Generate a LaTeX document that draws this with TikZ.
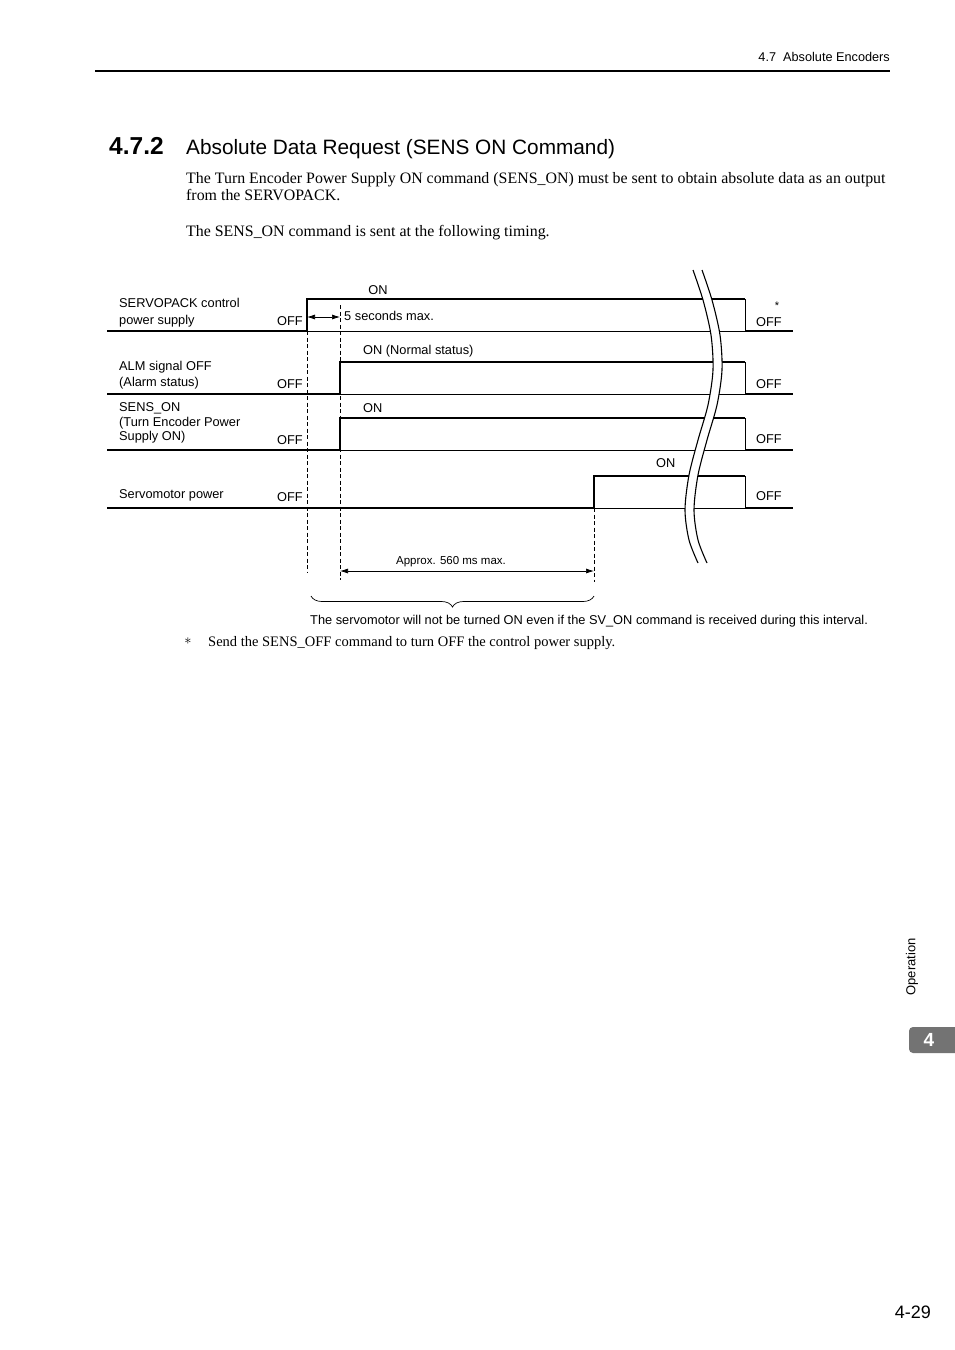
\documentclass[tikz,border=0pt]{standalone}
\usepackage{fontspec}
\setmainfont{Liberation Serif}
\newfontfamily\arial{Liberation Sans}
\usetikzlibrary{arrows.meta,decorations.pathreplacing}
\definecolor{tabgray}{RGB}{115,115,115}
\begin{document}
\begin{tikzpicture}[x=1pt,y=-1pt,
  lbl/.style={font=\arial\fontsize{12.8}{14}\selectfont, anchor=base west, inner sep=0pt},
  lblr/.style={lbl, anchor=base east},
  lblc/.style={lbl, anchor=base},
  sig/.style={line width=1.4pt, line join=miter},
  baseln/.style={line width=0.7pt},
  guide/.style={line width=0.7pt, dash pattern=on 4pt off 2.5pt},
  dim/.style={line width=0.7pt, {Latex[length=8pt,width=5pt]}-{Latex[length=8pt,width=5pt]}},
  body/.style={font=\fontsize{15.9}{18}\selectfont, anchor=base west, inner sep=0pt},
  wave/.style={line width=1.1pt}]
\useasboundingbox (0,0) rectangle (954,1350);

% header
\node[font=\arial\fontsize{12.7}{14}\selectfont, anchor=base east, inner sep=0pt] (hdr) at (890,61) {4.7\ \ Absolute Encoders};
\coordinate (r1) at (95,71); \coordinate (r2) at (890,71);
\draw[line width=2pt] (r1) -- (r2);

% heading
\node[anchor=base west, inner sep=0pt, font=\arial\bfseries\fontsize{24.5}{26}\selectfont] (num) at (109,154.5) {4.7.2};
\node[anchor=base west, inner sep=0pt, font=\arial\fontsize{20.8}{24}\selectfont] (ttl) at (186,154.5) {Absolute Data Request (SENS ON Command)};

% body
\node[body] (b1) at (186,183) {The Turn Encoder Power Supply ON command (SENS\_ON) must be sent to obtain absolute data as an output};
\node[body] (b2) at (186,200) {from the SERVOPACK.};
\node[body] (b3) at (186,236) {The SENS\_ON command is sent at the following timing.};

% signals
\draw[sig] (107,331) -- (307,331) -- (307,299) -- (745,299);
\draw[baseln] (307,331) -- (745,331) (745,299) -- (745,331);
\draw[sig] (745,331) -- (793,331);

\draw[sig] (107,394) -- (340,394) -- (340,362) -- (745,362);
\draw[baseln] (340,394) -- (745,394) (745,362) -- (745,394);
\draw[sig] (745,394) -- (793,394);

\draw[sig] (107,450) -- (340,450) -- (340,418) -- (745,418);
\draw[baseln] (340,450) -- (745,450) (745,418) -- (745,450);
\draw[sig] (745,450) -- (793,450);

\draw[sig] (107,508) -- (594,508) -- (594,476) -- (745,476);
\draw[baseln] (594,508) -- (745,508) (745,476) -- (745,508);
\draw[sig] (745,508) -- (793,508);

% guides
\draw[guide] (307,331) -- (307,572);
\draw[guide] (340,305) -- (340,580);
\draw[guide] (594,508) -- (594,582);

% dimension arrows
\draw[dim] (307,317) -- (340,317);
\draw[dim] (340,571) -- (594,571);

% brace
\draw[line width=0.7pt, decorate, decoration={brace, amplitude=11pt, mirror}] (311,596) -- (594,596);

% wave break
\fill[white] plot[smooth] coordinates {(693,270) (703,300) (711,335) (713,370) (708,405) (698,440) (689,475) (685,510) (689,540) (698,563)}
  -- plot[smooth] coordinates {(707,563) (698,540) (694,510) (698,475) (707,440) (717,405) (722,370) (720,335) (712,300) (702,270)} -- cycle;
\draw[wave] plot[smooth] coordinates {(693,270) (703,300) (711,335) (713,370) (708,405) (698,440) (689,475) (685,510) (689,540) (698,563)};
\draw[wave] plot[smooth] coordinates {(702,270) (712,300) (720,335) (722,370) (717,405) (707,440) (698,475) (694,510) (698,540) (707,563)};

% labels row 1
\node[lbl] (l1a) at (119,307) {SERVOPACK control};
\node[lbl] (l1b) at (119,324) {power supply};
\node[lblr] (o1) at (303,325) {OFF};
\node[lblc] (n1) at (378,294) {ON};
\node[lbl] (t5) at (344,320) {5 seconds max.};
\node[font=\arial\fontsize{11}{12}\selectfont, inner sep=0pt] (ast) at (777,306) {*};
\node[lbl] (f1) at (756,326) {OFF};

% row 2
\node[lbl] (l2a) at (119,370) {ALM signal OFF};
\node[lbl] (l2b) at (119,386) {(Alarm status)};
\node[lblr] (o2) at (303,388) {OFF};
\node[lbl] (n2) at (363,354) {ON (Normal status)};
\node[lbl] (f2) at (756,388) {OFF};

% row 3
\node[lbl] (l3a) at (119,411) {SENS\_ON};
\node[lbl] (l3b) at (119,426) {(Turn Encoder Power};
\node[lbl] (l3c) at (119,440) {Supply ON)};
\node[lblr] (o3) at (303,444) {OFF};
\node[lbl] (n3) at (363,412) {ON};
\node[lbl] (f3) at (756,443) {OFF};

% row 4
\node[lbl] (l4a) at (119,498) {Servomotor power};
\node[lblr] (o4) at (303,501) {OFF};
\node[lbl] (n4) at (656,467) {ON};
\node[lbl] (f4) at (756,500) {OFF};

\node[font=\arial\fontsize{11.5}{13}\selectfont, anchor=base, inner sep=0pt] (t560) at (451,564) {Approx. 560 ms max.};
\node[font=\arial\fontsize{12.8}{14}\selectfont, anchor=base west, inner sep=0pt] (cap) at (310,624) {The servomotor will not be turned ON even if the SV\_ON command is received during this interval.};

% footnote
\node[inner sep=0pt, font=\fontsize{15}{17}\selectfont] (fa) at (188,641) {$\ast$};
\node[font=\fontsize{14.5}{17}\selectfont, anchor=base west, inner sep=0pt] (fn) at (208,646) {Send the SENS\_OFF command to turn OFF the control power supply.};

% side tab
\node[rotate=90, font=\arial\fontsize{13}{14}\selectfont, inner sep=0pt] (op) at (912,967) {Operation};
\fill[tabgray, rounded corners=4pt] (909,1027) rectangle (962,1053);
\node[text=white, font=\arial\bfseries\fontsize{19}{20}\selectfont, inner sep=0pt] (tab4) at (929,1040) {4};
\node[anchor=base east, font=\arial\fontsize{18}{20}\selectfont, inner sep=0pt] (pg) at (931,1318) {4-29};
\end{tikzpicture}
\end{document}
